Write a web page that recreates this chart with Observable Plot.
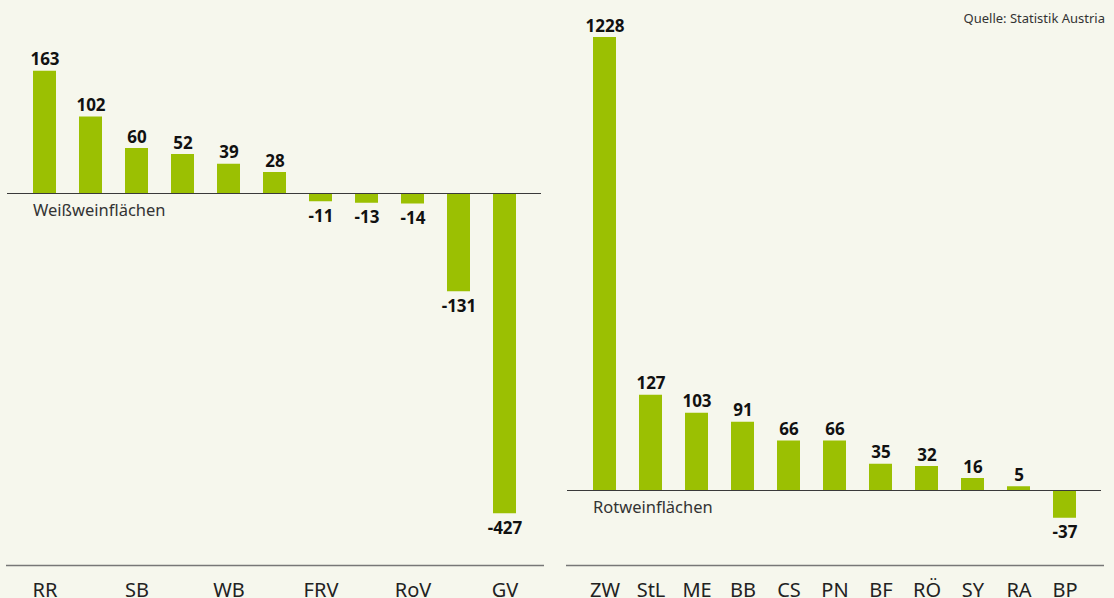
<!DOCTYPE html>
<html>
<head>
<meta charset="utf-8">
<script src="https://cdn.jsdelivr.net/npm/d3@7"></script>
<script src="https://cdn.jsdelivr.net/npm/@observablehq/plot@0.6"></script>
<style>
  html, body { margin: 0; padding: 0; background: #f6f7ed; }
  #wrap { position: relative; width: 1114px; height: 598px; overflow: hidden; background: #f6f7ed; font-family: "Noto Sans", sans-serif; }
  #wrap svg { position: absolute; top: 0; overflow: visible; background: transparent; }
  #source { position: absolute; top: 9px; right: 9px; font-size: 13px; color: #333; }
</style>
</head>
<body>
<div id="wrap">
  <div id="source">Quelle: Statistik Austria</div>
</div>
<script>
// White wine varieties (change in area)
const whiteCategories = ["RR", "CH", "SB", "GM", "WB", "TR", "FRV", "NB", "RoV", "MT", "GV"];
const whiteValues = [163, 102, 60, 52, 39, 28, -11, -13, -14, -131, -427];
const whiteTickLabels = ["RR", "SB", "WB", "FRV", "RoV", "GV"];
const whiteTitle = "Weißweinflächen";

// Red wine varieties (change in area)
const redCategories = ["ZW", "StL", "ME", "BB", "CS", "PN", "BF", "RÖ", "SY", "RA", "BP"];
const redValues = [1228, 127, 103, 91, 66, 66, 35, 32, 16, 5, -37];
const redTickLabels = redCategories;
const redTitle = "Rotweinflächen";

const GREEN = "#9bc002";
const FONT = "Noto Sans, sans-serif";

function panel({categories, values, ticks, title, yDomain, marginLeft, marginRight, left}) {
  const data = categories.map((c, i) => ({cat: c, value: values[i]}));
  const first = categories[0];
  const chart = Plot.plot({
    width: 557,
    height: 598,
    marginTop: 37,
    marginBottom: 33,
    marginLeft,
    marginRight,
    style: {background: "transparent", fontFamily: FONT, overflow: "visible"},
    x: {domain: categories, padding: 0.5, label: null},
    y: {domain: yDomain, clamp: true, axis: null},
    marks: [
      Plot.barY(data, {x: "cat", y: "value", fill: GREEN}),
      Plot.ruleY([0], {stroke: "#3a3a3a", strokeWidth: 1.2, insetLeft: -3, insetRight: -2}),
      Plot.ruleY([yDomain[0]], {stroke: "#777", strokeWidth: 1.5, insetLeft: -4, insetRight: -5}),
      Plot.text(data.filter(d => d.value >= 0), {x: "cat", y: "value", text: d => String(d.value), lineAnchor: "bottom", dy: -6, fontSize: 17, fontWeight: "bold", fill: "#111"}),
      Plot.text(data.filter(d => d.value < 0), {x: "cat", y: "value", text: d => String(d.value), lineAnchor: "top", dy: 8, fontSize: 17, fontWeight: "bold", fill: "#111"}),
      Plot.text([title], {x: () => first, y: () => 0, text: d => d, dx: -12, dy: 11, textAnchor: "start", lineAnchor: "top", fontSize: 16.5, fill: "#333"}),
      Plot.axisX({ticks, tickSize: 0, tickPadding: 17, fontSize: 20, fill: "#222", label: null})
    ]
  });
  chart.style.left = left + "px";
  return chart;
}

const wrap = document.getElementById("wrap");
wrap.appendChild(panel({
  categories: whiteCategories, values: whiteValues, ticks: whiteTickLabels, title: whiteTitle,
  yDomain: [-496, 208], marginLeft: 10, marginRight: 18, left: 0
}));
wrap.appendChild(panel({
  categories: redCategories, values: redValues, ticks: redTickLabels, title: redTitle,
  yDomain: [-100, 604], marginLeft: 13, marginRight: 15, left: 557
}));
</script>
</body>
</html>
